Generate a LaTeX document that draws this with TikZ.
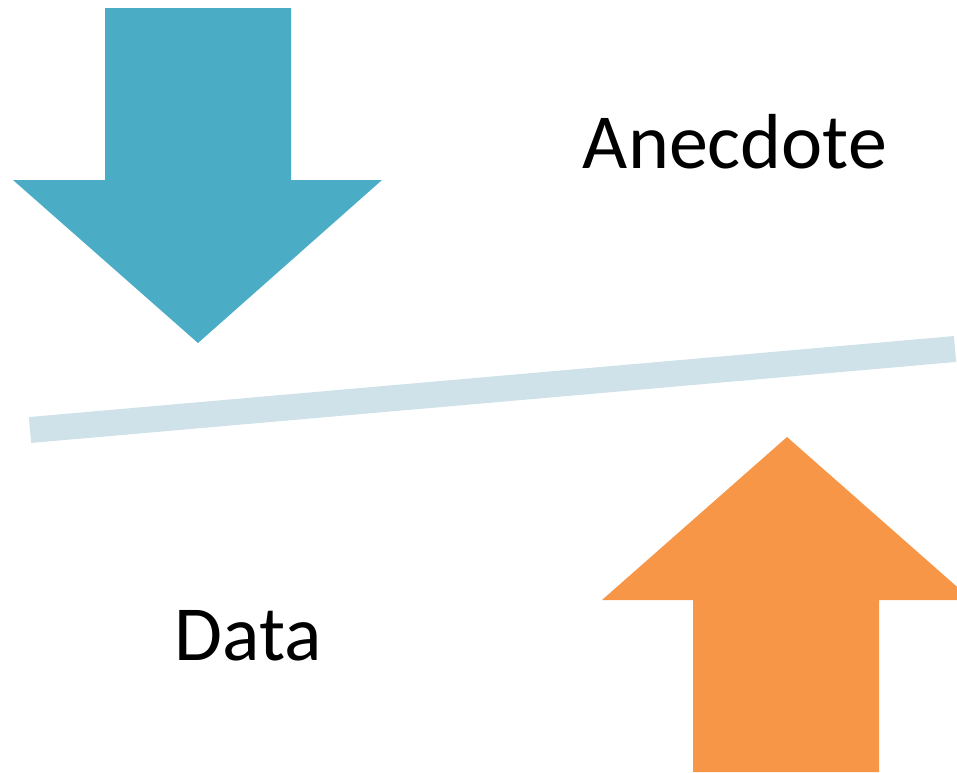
\documentclass[tikz,border=0pt]{standalone}
\usepackage{fontspec}
\setmainfont{Carlito}
\definecolor{arrowblue}{HTML}{4BACC6}
\definecolor{arroworange}{HTML}{F79646}
\definecolor{beamblue}{HTML}{CFE2EA}
\begin{document}
\begin{tikzpicture}[x=1pt,y=-1pt,
  lbl/.style={font=\fontsize{78}{90}\selectfont, text=black, inner sep=0pt}]
\useasboundingbox (0,0) rectangle (957,772);
\clip (0,0) rectangle (957,772);
\fill[arrowblue] (105,8) -- (291,8) -- (291,180) -- (382,180) -- (198,343) -- (13,180) -- (105,180) -- cycle;
\coordinate (b1) at (30,430);
\coordinate (b2) at (955,349);
\draw[beamblue, line width=26pt] (b1) -- (b2);
\fill[arroworange] (787,437) -- (972,600) -- (879,600) -- (879,772) -- (693,772) -- (693,600) -- (602,600) -- cycle;
\node[lbl] (anecdote) at (735,142) {Anecdote};
\node[lbl] (data) at (248,636) {Data};
\end{tikzpicture}
\end{document}
